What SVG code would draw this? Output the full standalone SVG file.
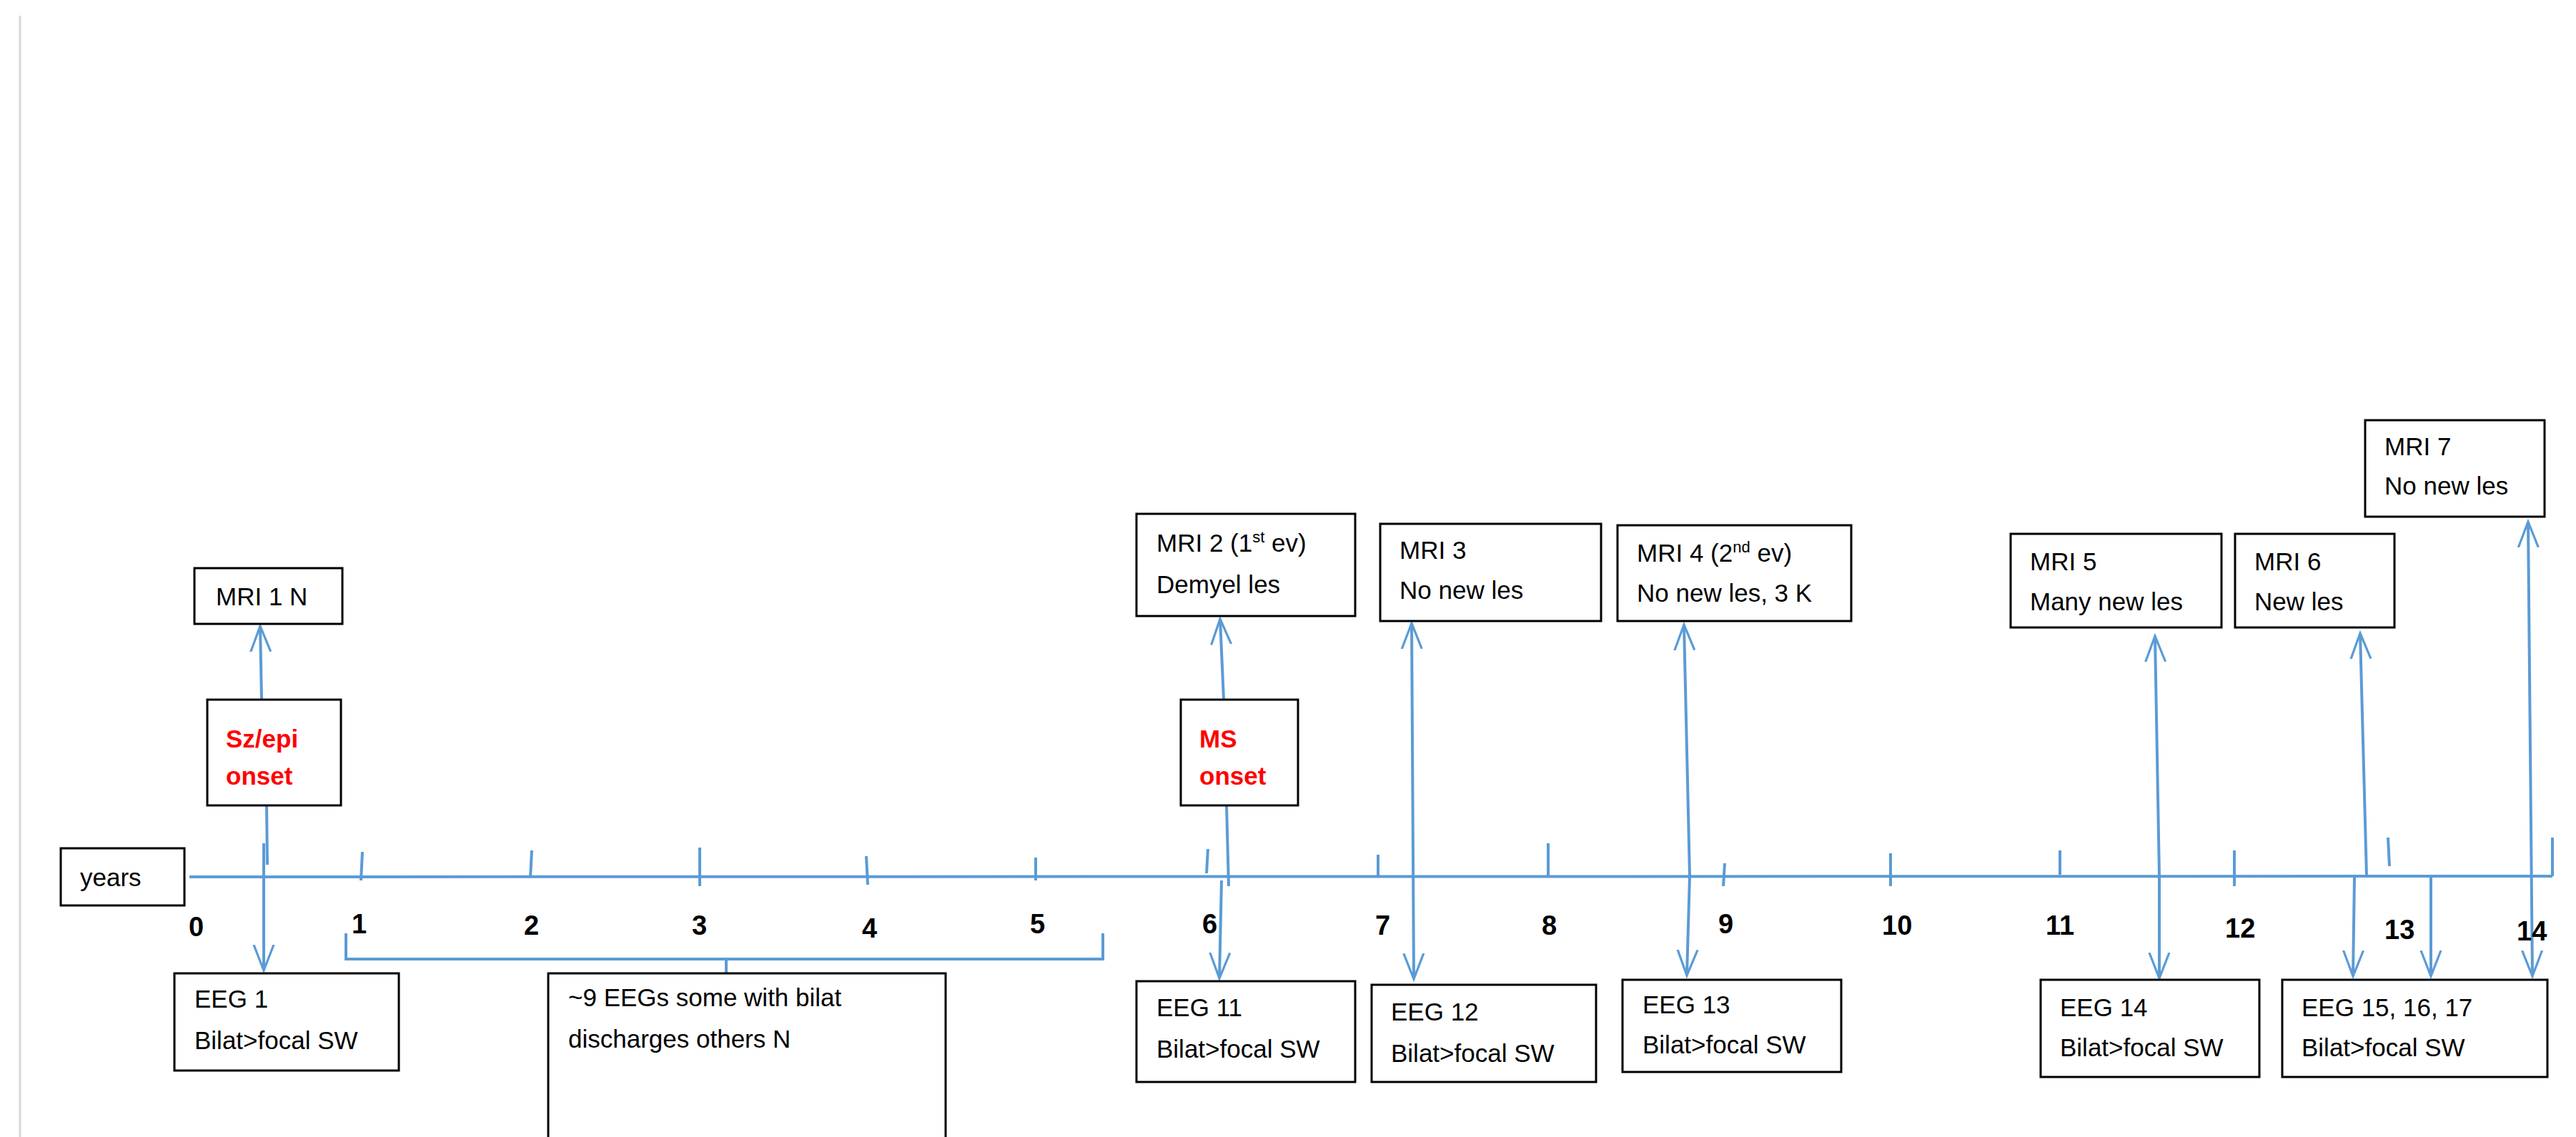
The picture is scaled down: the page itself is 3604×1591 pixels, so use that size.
<svg xmlns="http://www.w3.org/2000/svg" width="3604" height="1591" viewBox="0 0 3604 1591">
<style>
.box{fill:#fff;stroke:#000;stroke-width:3}
.t{font-family:"Liberation Sans",Arial,sans-serif;font-size:35px;fill:#000}
.r{font-family:"Liberation Sans",Arial,sans-serif;font-size:35px;font-weight:bold;fill:#ff0000}
.n{font-family:"Liberation Sans",Arial,sans-serif;font-size:38px;font-weight:bold;fill:#000}
.c{stroke:#5b9bd5;stroke-width:4;fill:none}
.a{stroke:#5b9bd5;stroke-width:4;fill:none;marker-end:url(#h)}
.d{stroke:#5b9bd5;stroke-width:4;fill:none;marker-end:url(#h);marker-start:url(#hs)}
</style>
<defs>
<marker id="h" viewBox="0 0 20 20" refX="18" refY="10" markerWidth="40" markerHeight="40" markerUnits="userSpaceOnUse" orient="auto"><path d="M0,3 L18,10 L0,17" fill="none" stroke="#5b9bd5" stroke-width="1.6"/></marker>
<marker id="hs" viewBox="0 0 20 20" refX="2" refY="10" markerWidth="40" markerHeight="40" markerUnits="userSpaceOnUse" orient="auto"><path d="M20,3 L2,10 L20,17" fill="none" stroke="#5b9bd5" stroke-width="1.6"/></marker>
</defs>
<rect width="3604" height="1591" fill="#fff"/>
<line x1="28" y1="22" x2="28" y2="1591" stroke="#d9d9d9" stroke-width="3"/>
<g id="connectors">
<line class="c" x1="265" y1="1227" x2="3571" y2="1226"/>
<g class="c">
<line x1="507" y1="1192" x2="505" y2="1232"/><line x1="744" y1="1190" x2="742" y2="1228"/><line x1="979" y1="1186" x2="979" y2="1240"/><line x1="1212" y1="1198" x2="1214" y2="1238"/><line x1="1449" y1="1200" x2="1449" y2="1232"/><line x1="1690" y1="1188" x2="1688" y2="1222"/><line x1="1928" y1="1196" x2="1928" y2="1228"/><line x1="2166" y1="1180" x2="2166" y2="1226"/><line x1="2413" y1="1208" x2="2411" y2="1240"/><line x1="2645" y1="1194" x2="2645" y2="1240"/><line x1="2882" y1="1190" x2="2882" y2="1224"/><line x1="3126" y1="1190" x2="3126" y2="1240"/><line x1="3341" y1="1172" x2="3343" y2="1212"/><line x1="3571" y1="1172" x2="3571" y2="1226"/>
<line x1="373" y1="1127" x2="374" y2="1210"/>
<line x1="1716" y1="1127" x2="1719" y2="1240"/>
<path d="M484,1306 V1342 H1543 V1306 M1016,1342 V1396"/>
</g>
<line class="a" x1="366" y1="979" x2="364" y2="876"/>
<line class="a" x1="369" y1="1180" x2="369" y2="1358"/>
<line class="a" x1="1712" y1="979" x2="1707" y2="866"/>
<line class="a" x1="1709" y1="1232" x2="1706" y2="1369"/>
<line class="d" x1="1975" y1="872" x2="1978" y2="1370"/>
<path class="d" d="M2356,874 L2364,1226 L2360,1365"/>
<path class="d" d="M3015,890 L3021,1226 L3021,1369"/>
<line class="a" x1="3311" y1="1226" x2="3302" y2="886"/>
<line class="a" x1="3294" y1="1228" x2="3292" y2="1366"/>
<line class="a" x1="3401" y1="1228" x2="3401" y2="1366"/>
<line class="d" x1="3537" y1="730" x2="3543" y2="1366"/>
</g>
<g id="years"><rect class="box" x="85" y="1187" width="173" height="80"/><text class="t" x="112" y="1240">years</text></g>
<g id="ticklabels">
<text class="n" x="264" y="1310">0</text><text class="n" x="492" y="1306">1</text><text class="n" x="733" y="1308">2</text><text class="n" x="968" y="1308">3</text><text class="n" x="1206" y="1312">4</text><text class="n" x="1441" y="1306">5</text><text class="n" x="1682" y="1306">6</text><text class="n" x="1924" y="1308">7</text><text class="n" x="2157" y="1308">8</text><text class="n" x="2404" y="1306">9</text><text class="n" x="2633" y="1308">10</text><text class="n" x="2862" y="1308">11</text><text class="n" x="3113" y="1312">12</text><text class="n" x="3336" y="1314">13</text><text class="n" x="3521" y="1316">14</text>
</g>
<g id="mri1"><rect class="box" x="272" y="795" width="207" height="78"/><text class="t" x="302" y="847">MRI 1 N</text></g>
<g id="szepi"><rect class="box" x="290" y="979" width="187" height="148"/><text class="r" x="316" y="1046">Sz/epi</text><text class="r" x="316" y="1098">onset</text></g>
<g id="eeg1"><rect class="box" x="244" y="1362" width="314" height="136"/><text class="t" x="272" y="1410">EEG 1</text><text class="t" x="272" y="1468">Bilat&gt;focal SW</text></g>
<g id="eeg2to10"><rect class="box" x="767" y="1362" width="556" height="250"/><text class="t" x="795" y="1408">~9 EEGs some with bilat</text><text class="t" x="795" y="1466">discharges others N</text></g>
<g id="mri2"><rect class="box" x="1590" y="719" width="306" height="143"/><text class="t" x="1618" y="772">MRI 2  (1<tspan font-size="22" dy="-13">st</tspan><tspan dy="13">  ev)</tspan></text><text class="t" x="1618" y="830">Demyel les</text></g>
<g id="msonset"><rect class="box" x="1652" y="979" width="164" height="148"/><text class="r" x="1678" y="1046">MS</text><text class="r" x="1678" y="1098">onset</text></g>
<g id="eeg11"><rect class="box" x="1590" y="1373" width="306" height="141"/><text class="t" x="1618" y="1422">EEG 11</text><text class="t" x="1618" y="1480">Bilat&gt;focal SW</text></g>
<g id="mri3"><rect class="box" x="1931" y="733" width="309" height="136"/><text class="t" x="1958" y="782">MRI 3</text><text class="t" x="1958" y="838">No new les</text></g>
<g id="eeg12"><rect class="box" x="1919" y="1378" width="314" height="136"/><text class="t" x="1946" y="1428">EEG 12</text><text class="t" x="1946" y="1486">Bilat&gt;focal SW</text></g>
<g id="mri4"><rect class="box" x="2263" y="735" width="327" height="134"/><text class="t" x="2290" y="786">MRI 4 (2<tspan font-size="22" dy="-13">nd</tspan><tspan dy="13">   ev)</tspan></text><text class="t" x="2290" y="842">No new les, 3 K</text></g>
<g id="eeg13"><rect class="box" x="2270" y="1371" width="306" height="129"/><text class="t" x="2298" y="1418">EEG 13</text><text class="t" x="2298" y="1474">Bilat&gt;focal SW</text></g>
<g id="mri5"><rect class="box" x="2813" y="747" width="295" height="131"/><text class="t" x="2840" y="798">MRI 5</text><text class="t" x="2840" y="854">Many new les</text></g>
<g id="mri6"><rect class="box" x="3127" y="747" width="223" height="131"/><text class="t" x="3154" y="798">MRI 6</text><text class="t" x="3154" y="854">New les</text></g>
<g id="mri7"><rect class="box" x="3309" y="588" width="251" height="135"/><text class="t" x="3336" y="637">MRI 7</text><text class="t" x="3336" y="692">No new les</text></g>
<g id="eeg14"><rect class="box" x="2855" y="1371" width="306" height="136"/><text class="t" x="2882" y="1422">EEG 14</text><text class="t" x="2882" y="1478">Bilat&gt;focal SW</text></g>
<g id="eeg15"><rect class="box" x="3193" y="1371" width="371" height="136"/><text class="t" x="3220" y="1422">EEG 15, 16, 17</text><text class="t" x="3220" y="1478">Bilat&gt;focal SW</text></g>
</svg>
